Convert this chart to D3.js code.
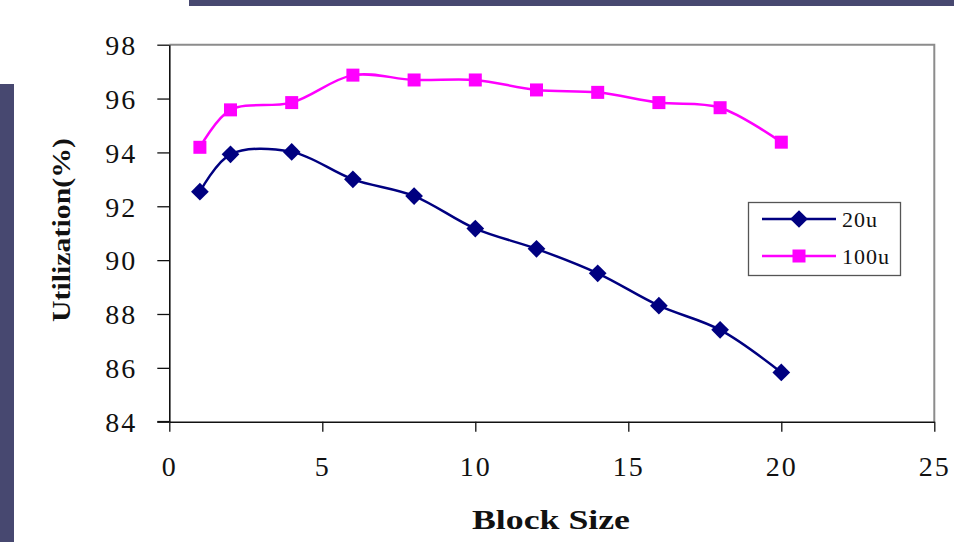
<!DOCTYPE html>
<html><head><meta charset="utf-8">
<script src="https://cdn.jsdelivr.net/npm/d3@7"></script>
<style>body{margin:0;background:#fff;}svg{display:block;}</style>
</head><body>
<svg id="c" width="954" height="542"></svg>
<script>
const blockSizes = [1, 2, 4, 6, 8, 10, 12, 14, 16, 18, 20];
const util20u  = [92.54, 93.93, 94.02, 93.0, 92.38, 91.17, 90.42, 89.51, 88.31, 87.41, 85.83];
const util100u = [94.19, 95.58, 95.85, 96.87, 96.69, 96.69, 96.32, 96.23, 95.85, 95.66, 94.38];
const seriesNames = ["20u", "100u"];
const xTicks = [0, 5, 10, 15, 20, 25];
const yTicks = [84, 86, 88, 90, 92, 94, 96, 98];

const svg = d3.select("#c");
const bg = "#474870";
svg.append("rect").attr("x",189).attr("y",0).attr("width",765).attr("height",6).attr("fill",bg);
svg.append("rect").attr("x",0).attr("y",84).attr("width",14).attr("height",458).attr("fill",bg);

const L=169.3, R=934.3, T=44.7, B=421.7;
const x = d3.scaleLinear().domain([0,25]).range([L,R]);
const y = d3.scaleLinear().domain([84,98]).range([B,T]);

svg.append("path").attr("d",`M${L},${T}H${R}V${B}`).attr("fill","none").attr("stroke","#8c8c8c").attr("stroke-width",2);

const font = "'Liberation Serif','Times New Roman',serif";
const yAxis = svg.append("g").attr("transform",`translate(${L},0)`)
  .call(d3.axisLeft(y).tickValues(yTicks).tickSize(12).tickPadding(20).tickSizeOuter(0));
const xAxis = svg.append("g").attr("transform",`translate(0,${B})`)
  .call(d3.axisBottom(x).tickValues(xTicks).tickSize(10).tickPadding(24).tickSizeOuter(0));
[yAxis,xAxis].forEach(g=>{
  g.select(".domain").attr("stroke","#111").attr("stroke-width",1.6);
  g.selectAll(".tick line").attr("stroke","#111").attr("stroke-width",1.3);
  g.selectAll("text").attr("fill","#111").attr("font-family",font).attr("font-size",28).attr("letter-spacing","2px");
});
yAxis.selectAll("text").attr("dy","0.35em");
svg.append("line").attr("x1",L-12).attr("x2",L).attr("y1",B).attr("y2",B).attr("stroke","#111").attr("stroke-width",1.6);

const line = d3.line().x(d=>x(d[0])).y(d=>y(d[1])).curve(d3.curveCatmullRom.alpha(0.5));
const data20 = blockSizes.map((b,i)=>[b,util20u[i]]);
const data100 = blockSizes.map((b,i)=>[b,util100u[i]]);
const c20="#000080", c100="#ff00ff";

svg.append("path").datum(data100).attr("d",line).attr("fill","none").attr("stroke",c100).attr("stroke-width",2.5);
svg.append("path").datum(data20).attr("d",line).attr("fill","none").attr("stroke",c20).attr("stroke-width",2.5);

svg.selectAll(".sq").data(data100).join("rect").attr("class","sq")
  .attr("x",d=>x(d[0])-6.5).attr("y",d=>y(d[1])-6.5).attr("width",13).attr("height",13).attr("fill",c100);
const diamond = d3.symbol().type(d3.symbolDiamond2).size(200);
svg.selectAll(".dm").data(data20).join("path").attr("class","dm")
  .attr("transform",d=>`translate(${x(d[0])},${y(d[1])})`).attr("d",diamond).attr("fill",c20);

const lg = svg.append("g");
lg.append("rect").attr("x",748.5).attr("y",202.5).attr("width",152).attr("height",73).attr("fill","#fff").attr("stroke","#555").attr("stroke-width",1.3);
const ly=[219,256];
seriesNames.forEach((n,i)=>{
  const col = i===0?c20:c100;
  lg.append("line").attr("x1",762).attr("x2",836).attr("y1",ly[i]).attr("y2",ly[i]).attr("stroke",col).attr("stroke-width",2.5);
  if(i===0) lg.append("path").attr("transform",`translate(799,${ly[i]})`).attr("d",diamond).attr("fill",col);
  else lg.append("rect").attr("x",792.5).attr("y",ly[i]-6.5).attr("width",13).attr("height",13).attr("fill",col);
  lg.append("text").attr("x",842).attr("y",ly[i]).attr("dy","0.35em").attr("font-family",font).attr("font-size",22).attr("letter-spacing","1px").attr("fill","#111").text(n);
});

svg.append("text").attr("x",551).attr("y",529).attr("text-anchor","middle").attr("font-family",font).attr("font-weight","bold").attr("font-size",27)
  .attr("textLength",158).attr("lengthAdjust","spacingAndGlyphs").attr("fill","#111").text("Block Size");
svg.append("text").attr("transform","translate(70,230) rotate(-90)").attr("text-anchor","middle").attr("font-family",font).attr("font-weight","bold").attr("font-size",26)
  .attr("textLength",184).attr("lengthAdjust","spacingAndGlyphs").attr("fill","#111").text("Utilization(%)");
</script>
</body></html>
